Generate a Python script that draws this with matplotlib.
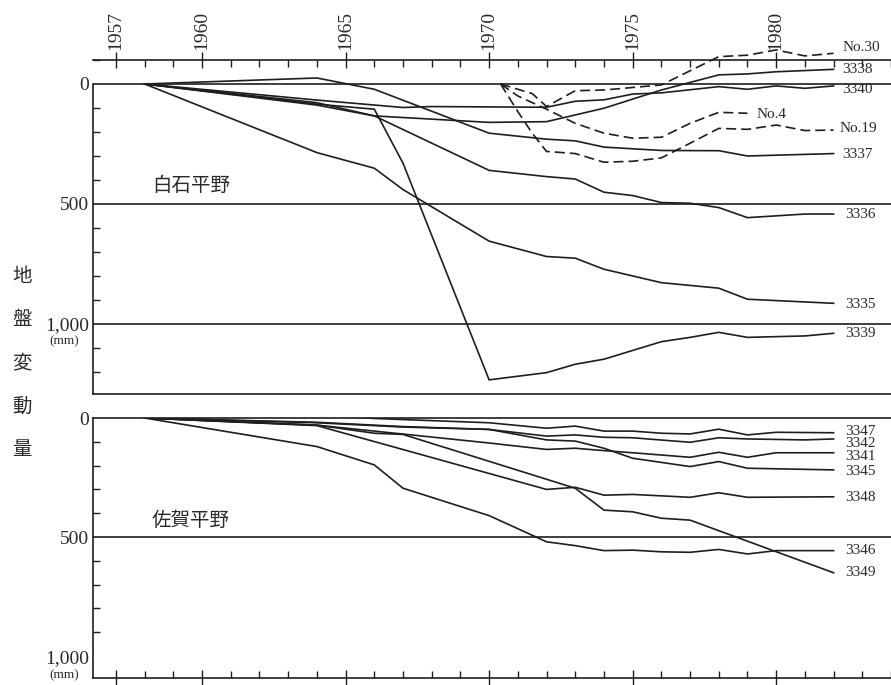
import matplotlib
matplotlib.use("Agg")
import matplotlib.pyplot as plt
from matplotlib.ticker import FixedLocator, MultipleLocator

# ---------------- data (ground subsidence, mm; positive = sinking) ----------------
# 白石平野 (Shiroishi plain)
shiroishi = {
    "3335": ([1958, 1964, 1966, 1967, 1970, 1972, 1973, 1974, 1976, 1978, 1979, 1982],
             [0, 286, 351, 440, 655, 719, 726, 772, 828, 851, 897, 914]),
    "3336": ([1958, 1964, 1966, 1970, 1972, 1973, 1974, 1975, 1976, 1977, 1978, 1979, 1981, 1982],
             [0, 88, 133, 360, 386, 396, 451, 465, 494, 497, 515, 557, 542, 542]),
    "3337": ([1958, 1964, 1966, 1970, 1972, 1973, 1974, 1976, 1978, 1979, 1982],
             [0, -25, 22, 205, 230, 237, 263, 277, 278, 300, 290]),
    "3338": ([1958, 1964, 1966, 1970, 1972, 1974, 1976, 1978, 1979, 1980, 1982],
             [0, 78, 133, 160, 157, 101, 25, -38, -42, -51, -61]),
    "3339": ([1958, 1964, 1966, 1967, 1970, 1972, 1973, 1974, 1976, 1977, 1978, 1979, 1981, 1982],
             [0, 84, 105, 330, 1233, 1203, 1168, 1147, 1074, 1056, 1035, 1056, 1050, 1039]),
    "3340": ([1958, 1964, 1967, 1968, 1972, 1973, 1974, 1975, 1976, 1978, 1979, 1980, 1981, 1982],
             [0, 67, 98, 94, 97, 72, 66, 42, 37, 11, 22, 8, 18, 8]),
}
shiroishi_dashed = {
    "No.30": ([1970.4, 1971, 1971.5, 1972, 1973, 1974, 1976, 1978, 1979, 1980, 1981, 1982],
              [0, 22, 40, 94, 28, 25, 4, -114, -120, -142, -117, -128]),
    "No.4": ([1970.4, 1971, 1972, 1973, 1974, 1975, 1976, 1977, 1978, 1979],
             [0, 50, 105, 164, 205, 226, 222, 164, 118, 122]),
    "No.19": ([1970.4, 1971, 1971.5, 1972, 1973, 1974, 1975, 1976, 1977, 1978, 1979, 1980, 1981, 1982],
              [0, 115, 205, 281, 290, 326, 322, 308, 247, 185, 189, 171, 194, 192]),
}
# 佐賀平野 (Saga plain)
saga = {
    "3341": ([1958, 1964, 1970, 1972, 1973, 1974, 1975, 1977, 1978, 1979, 1980, 1982],
             [0, 30, 105, 132, 127, 137, 146, 165, 144, 165, 146, 146]),
    "3342": ([1958, 1964, 1967, 1970, 1972, 1973, 1974, 1975, 1977, 1978, 1979, 1981, 1982],
             [0, 18, 36, 48, 76, 71, 81, 83, 102, 83, 88, 92, 88]),
    "3345": ([1958, 1964, 1967, 1970, 1972, 1973, 1974, 1975, 1977, 1978, 1979, 1982],
             [0, 20, 38, 48, 92, 97, 127, 169, 204, 183, 211, 218]),
    "3346": ([1958, 1964, 1966, 1967, 1970, 1972, 1973, 1974, 1975, 1976, 1977, 1978, 1979, 1980, 1982],
             [0, 120, 197, 295, 410, 520, 536, 557, 555, 562, 564, 552, 571, 557, 557]),
    "3347": ([1958, 1964, 1966, 1970, 1972, 1973, 1974, 1975, 1976, 1977, 1978, 1979, 1980, 1982],
             [0, -13, 2, 20, 43, 34, 55, 55, 64, 67, 47, 71, 60, 62]),
    "3348": ([1958, 1964, 1972, 1973, 1974, 1975, 1977, 1978, 1979, 1982],
             [0, 32, 300, 291, 324, 321, 333, 314, 333, 331]),
    "3349": ([1958, 1964, 1966, 1967, 1973, 1974, 1975, 1976, 1977, 1982],
             [0, 30, 64, 69, 295, 387, 394, 421, 429, 650]),
}

# label anchor positions (year, mm)
shiroishi_labels = {
    "No.30": (1982.3, -154), "3338": (1982.3, -62), "3340": (1982.3, 21),
    "No.4": (1979.3, 129), "No.19": (1982.2, 187), "3337": (1982.3, 292),
    "3336": (1982.4, 542), "3335": (1982.4, 917), "3339": (1982.4, 1038),
}
saga_labels = {
    "3347": (1982.4, 55), "3342": (1982.4, 105), "3341": (1982.4, 160),
    "3345": (1982.4, 223), "3348": (1982.4, 332), "3346": (1982.4, 555),
    "3349": (1982.4, 651),
}

year_labels = [1957, 1960, 1965, 1970, 1975, 1980]
mm_ticks = [0, 500, 1000]
mm_ticklabels = ["0", "500", "1,000"]
ylabel_chars = ["地", "盤", "変", "動", "量"]

# ---------------- styling ----------------
INK = "#1e1e1e"
TXT = "#2a2a2a"
SERIF = ["Liberation Serif", "DejaVu Serif"]
CJK = ["Noto Sans CJK JP", "DejaVu Sans"]
LW = 1.2
DASH = (0, (6, 3))

W, H = 891, 685
fig = plt.figure(figsize=(W / 100, H / 100), dpi=100)
fig.patch.set_facecolor("white")


def frac(x0, y0, x1, y1):
    return [x0 / W, 1 - y1 / H, (x1 - x0) / W, (y1 - y0) / H]


ax1 = fig.add_axes(frac(93, 60, 891, 394))
ax2 = fig.add_axes(frac(93, 418, 891, 678))

XMIN, XMAX = 1956.2, 1984.0
ax1.set_xlim(XMIN, XMAX)
ax2.set_xlim(XMIN, XMAX)
ax1.set_ylim(1292, -100)
ax2.set_ylim(1092, 0)

for ax in (ax1, ax2):
    ax.set_facecolor("none")
    ax.spines["right"].set_visible(False)
    for s in ("left", "top", "bottom"):
        ax.spines[s].set_color(INK)
        ax.spines[s].set_linewidth(LW)
    ax.yaxis.set_major_locator(FixedLocator(mm_ticks))
    ax.yaxis.set_minor_locator(MultipleLocator(100))
    ax.set_yticklabels(mm_ticklabels, fontfamily=SERIF, fontsize=14, color=TXT)
    ax.tick_params(axis="y", which="major", direction="in", length=0, pad=3)
    ax.tick_params(axis="y", which="minor", direction="in", length=5, width=1, color=INK)

ax1.spines["left"].set_bounds(0, 1292)

# year axis on top of the upper panel
ax1.xaxis.tick_top()
ax1.xaxis.set_major_locator(FixedLocator(year_labels))
ax1.xaxis.set_minor_locator(MultipleLocator(1))
ax1.set_xticklabels([str(y) for y in year_labels], rotation=90,
                    fontfamily=SERIF, fontsize=14, color=TXT)
ax1.tick_params(axis="x", which="major", direction="inout", length=11, width=1,
                color=INK, pad=2)
ax1.tick_params(axis="x", which="minor", direction="in", length=5, width=1, color=INK)

# year ticks (unlabelled) at the bottom of the lower panel
ax2.xaxis.set_major_locator(FixedLocator(year_labels))
ax2.xaxis.set_minor_locator(MultipleLocator(1))
ax2.set_xticklabels([])
ax2.tick_params(axis="x", which="major", direction="inout", length=11, width=1, color=INK)
ax2.tick_params(axis="x", which="minor", direction="in", length=5, width=1, color=INK)

# horizontal reference lines
for v in (0, 500, 1000):
    ax1.axhline(v, color=INK, lw=LW, zorder=1)
ax2.axhline(500, color=INK, lw=LW, zorder=1)

# series
for name, (yrs, vals) in shiroishi.items():
    ax1.plot(yrs, vals, color=INK, lw=LW, solid_joinstyle="miter")
for name, (yrs, vals) in shiroishi_dashed.items():
    # No.30 rises above the top frame line, so do not clip it
    ax1.plot(yrs, vals, color=INK, lw=LW, linestyle=DASH, clip_on=False)
for name, (yrs, vals) in saga.items():
    ax2.plot(yrs, vals, color=INK, lw=LW, solid_joinstyle="miter")

for name, (x, y) in shiroishi_labels.items():
    ax1.text(x, y, name, fontfamily=SERIF, fontsize=11, color=TXT,
             ha="left", va="center")
for name, (x, y) in saga_labels.items():
    ax2.text(x, y, name, fontfamily=SERIF, fontsize=11, color=TXT,
             ha="left", va="center")

# plain names
ax1.text(1958.25, 421, "白石平野", fontfamily=CJK, fontsize=14, color=TXT, va="center")
ax2.text(1958.25, 429, "佐賀平野", fontfamily=CJK, fontsize=14, color=TXT, va="center")

# unit marks under the 1,000 labels
fig.text(64 / W, 1 - 341 / H, "(mm)", fontfamily=SERIF, fontsize=9.5, color=TXT,
         ha="center", va="center")
fig.text(64 / W, 1 - 675 / H, "(mm)", fontfamily=SERIF, fontsize=9.5, color=TXT,
         ha="center", va="center")

# vertical axis title
for i, ch in enumerate(ylabel_chars):
    fig.text(22 / W, 1 - (277 + 43 * i) / H, ch, fontfamily=CJK, fontsize=14,
             color=TXT, ha="center", va="center")

fig.savefig("out.png", dpi=100, facecolor="white")
